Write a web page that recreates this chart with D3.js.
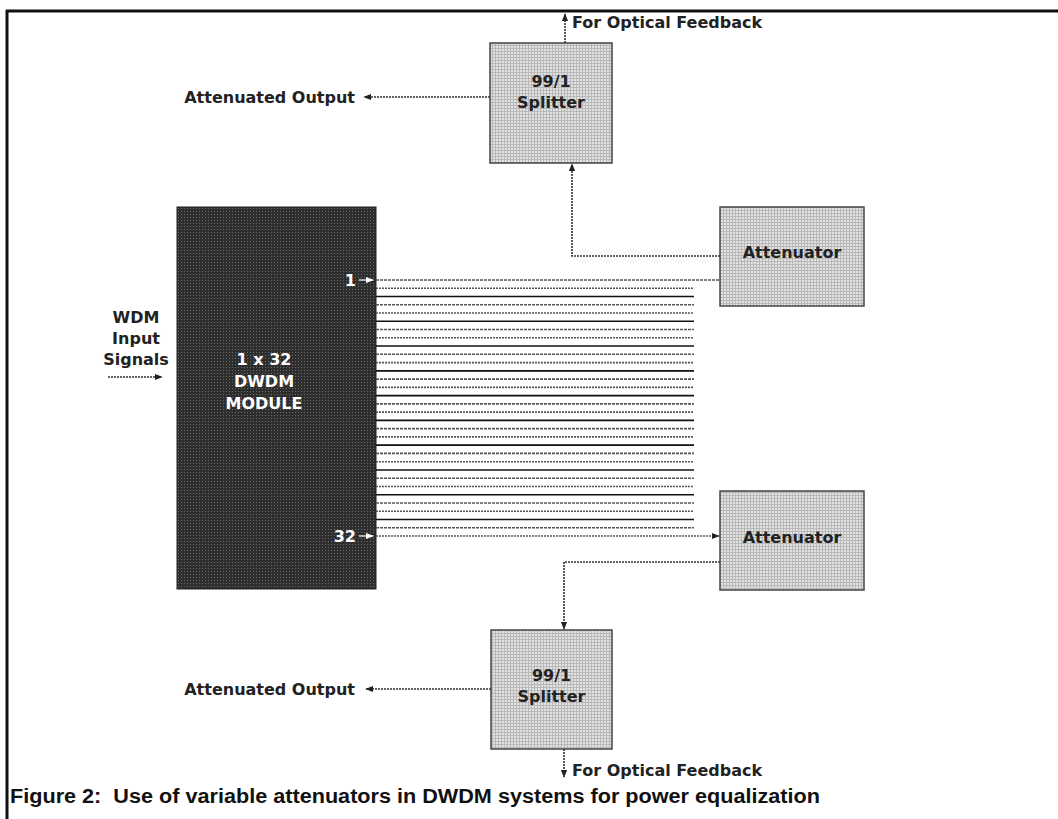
<!DOCTYPE html>
<html>
<head>
<meta charset="utf-8">
<script src="https://cdn.jsdelivr.net/npm/d3@7"></script>
<style>
  body { margin: 0; background: #fff; }
  svg { display: block; }
  text { white-space: pre; }
</style>
</head>
<body>
<script>
var width = 1058, height = 819;

// channel numbers of the 1 x 32 DWDM module
var channels = [1,2,3,4,5,6,7,8,9,10,11,12,13,14,15,16,17,18,19,20,21,22,23,24,25,26,27,28,29,30,31,32];
var moduleLabel = ["1 x 32", "DWDM", "MODULE"];
var inputLabel = ["WDM", "Input", "Signals"];
var splitterLabel = ["99/1", "Splitter"];
var attLabel = "Attenuator";
var outLabel = "Attenuated Output";
var fbLabel = "For Optical Feedback";
var caption = "Figure 2:  Use of variable attenuators in DWDM systems for power equalization";

var svg = d3.select("body").append("svg")
  .attr("width", width)
  .attr("height", height);

var defs = svg.append("defs");

// light mesh fill for splitter / attenuator boxes
var pl = defs.append("pattern").attr("id", "light")
  .attr("width", 3).attr("height", 3).attr("patternUnits", "userSpaceOnUse");
pl.append("rect").attr("width", 3).attr("height", 3).attr("fill", "#e2e2e2");
pl.append("rect").attr("width", 3).attr("height", 1).attr("fill", "#b8b8b8");
pl.append("rect").attr("width", 1).attr("height", 3).attr("fill", "#b8b8b8");

// dark dotted fill for the module
var pd = defs.append("pattern").attr("id", "dark")
  .attr("width", 3).attr("height", 3).attr("patternUnits", "userSpaceOnUse");
pd.append("rect").attr("width", 3).attr("height", 3).attr("fill", "#2e2e2e");
pd.append("rect").attr("x", 1).attr("y", 1).attr("width", 1).attr("height", 1).attr("fill", "#6a6a6a");

function marker(id, col) {
  defs.append("marker").attr("id", id)
    .attr("viewBox", "0 0 10 10").attr("refX", 9).attr("refY", 5)
    .attr("markerWidth", 8).attr("markerHeight", 8)
    .attr("markerUnits", "userSpaceOnUse")
    .attr("orient", "auto")
    .append("path").attr("d", "M0,1 L10,5 L0,9 Z").attr("fill", col);
}
marker("arr", "#222");
marker("arrw", "#fff");

// frame
svg.append("line").attr("x1", 6).attr("x2", width).attr("y1", 11).attr("y2", 11)
  .attr("stroke", "#111").attr("stroke-width", 3);
svg.append("line").attr("x1", 7).attr("x2", 7).attr("y1", 10).attr("y2", height)
  .attr("stroke", "#111").attr("stroke-width", 3);

var font = "'DejaVu Sans', sans-serif";
var fs = 16;

// channel scale
var y = d3.scaleLinear().domain([1, 32]).range([280, 536]);

// module box
svg.append("rect").attr("x", 177).attr("y", 207).attr("width", 199).attr("height", 382)
  .attr("fill", "url(#dark)").attr("stroke", "#222").attr("stroke-width", 1);

// fibre lines
svg.selectAll("line.ch").data(channels).enter().append("line")
  .attr("class", "ch")
  .attr("x1", 376)
  .attr("x2", function(d) { return (d == 1 || d == 32) ? 719 : 694; })
  .attr("y1", function(d) { return y(d); })
  .attr("y2", function(d) { return y(d); })
  .attr("stroke", function(d) { return d % 3 == 0 ? "#111" : "#555"; })
  .attr("stroke-width", 1.6)
  .attr("stroke-dasharray", function(d) { return d % 3 == 1 ? "3,1" : (d % 3 == 2 ? "2,1" : null); })
  .attr("marker-end", function(d) { return d == 32 ? "url(#arr)" : null; });

// channel markers inside module
[1, 32].forEach(function(c) {
  svg.append("text").attr("x", 356).attr("y", y(c) + 6)
    .attr("text-anchor", "end").attr("fill", "#fff")
    .attr("font-family", font).attr("font-weight", "bold").attr("font-size", fs)
    .text(c);
  svg.append("line").attr("x1", 359).attr("x2", 373).attr("y1", y(c)).attr("y2", y(c))
    .attr("stroke", "#fff").attr("stroke-width", 1.2).attr("marker-end", "url(#arrw)");
});

svg.selectAll("text.mod").data(moduleLabel).enter().append("text")
  .attr("class", "mod")
  .attr("x", 264).attr("y", function(d, i) { return 365 + i * 22; })
  .attr("text-anchor", "middle").attr("fill", "#fff")
  .attr("font-family", font).attr("font-weight", "bold").attr("font-size", fs)
  .text(function(d) { return d; });

svg.selectAll("text.inp").data(inputLabel).enter().append("text")
  .attr("class", "inp")
  .attr("x", 136).attr("y", function(d, i) { return 323 + i * 21; })
  .attr("text-anchor", "middle").attr("fill", "#222")
  .attr("font-family", font).attr("font-weight", "bold").attr("font-size", fs)
  .text(function(d) { return d; });

function wire(pts) {
  svg.append("path").attr("d", d3.line()(pts))
    .attr("fill", "none").attr("stroke", "#333").attr("stroke-width", 1.6)
    .attr("stroke-dasharray", "2,1")
    .attr("marker-end", "url(#arr)");
}
wire([[108, 377], [162, 377]]);

// boxes: splitters and attenuators
var boxes = [
  {x: 490, y: 43, w: 122, h: 120, lab: splitterLabel, ty: 87},
  {x: 491, y: 630, w: 121, h: 119, lab: splitterLabel, ty: 681},
  {x: 720, y: 207, w: 144, h: 99, lab: [attLabel], ty: 258},
  {x: 720, y: 491, w: 144, h: 99, lab: [attLabel], ty: 543}
];
boxes.forEach(function(b) {
  svg.append("rect").attr("x", b.x).attr("y", b.y).attr("width", b.w).attr("height", b.h)
    .attr("fill", "url(#light)").attr("stroke", "#444").attr("stroke-width", 1.5);
  b.lab.forEach(function(t, i) {
    svg.append("text").attr("x", b.x + b.w / 2).attr("y", b.ty + i * 21)
      .attr("text-anchor", "middle").attr("fill", "#222")
      .attr("font-family", font).attr("font-weight", "bold").attr("font-size", fs)
      .text(t);
  });
});

// connections
wire([[720, 256], [572, 256], [572, 164]]);
wire([[490, 97], [364, 97]]);
wire([[565, 43], [565, 14]]);
wire([[720, 562], [564, 562], [564, 629]]);
wire([[491, 689], [366, 689]]);
wire([[564, 749], [564, 777]]);

// outer labels
[[97, 355], [689, 355]].forEach(function(p) {
  svg.append("text").attr("x", p[1]).attr("y", p[0] + 6)
    .attr("text-anchor", "end").attr("fill", "#222")
    .attr("font-family", font).attr("font-weight", "bold").attr("font-size", fs)
    .text(outLabel);
});
[28, 776].forEach(function(yy) {
  svg.append("text").attr("x", 572).attr("y", yy)
    .attr("fill", "#222")
    .attr("font-family", font).attr("font-weight", "bold").attr("font-size", fs)
    .text(fbLabel);
});

svg.append("text").attr("x", 10).attr("y", 803)
  .attr("fill", "#111")
  .attr("font-family", "'Liberation Sans', Arial, sans-serif").attr("font-weight", "bold").attr("font-size", 20)
  .attr("textLength", 810).attr("lengthAdjust", "spacingAndGlyphs")
  .text(caption);
</script>
</body>
</html>
